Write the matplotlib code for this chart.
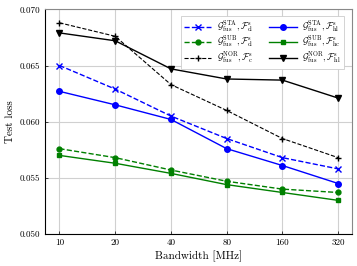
import numpy as np
import matplotlib
matplotlib.use('Agg')
from matplotlib import pyplot as plt
from matplotlib.ticker import FixedLocator, FixedFormatter, NullFormatter

plt.rcParams['font.family'] = 'serif'
plt.rcParams['font.serif'] = ['cmr10', 'DejaVu Serif']
plt.rcParams['mathtext.fontset'] = 'cm'
plt.rcParams['axes.formatter.use_mathtext'] = True

bandwidth = [10, 20, 40, 80, 160, 320]
xticklabels = ['10', '20', '40', '80', '160', '320']

sta_cl = [0.0650, 0.0629, 0.0605, 0.0585, 0.0568, 0.0558]
sub_cl = [0.0576, 0.0568, 0.0557, 0.0547, 0.0540, 0.0537]
nor_c = [0.0688, 0.0676, 0.0633, 0.0610, 0.0585, 0.0568]
sta_hl = [0.0627, 0.0615, 0.0602, 0.0576, 0.0561, 0.0545]
sub_hc = [0.0570, 0.0563, 0.0554, 0.0544, 0.0537, 0.0530]
nor_hl = [0.0679, 0.0672, 0.0647, 0.0638, 0.0637, 0.0621]

labels = [
    r'$\mathcal{G}^{\rm STA}_{\rm fus}, \mathcal{F}^{\rm s}_{\rm cl}$',
    r'$\mathcal{G}^{\rm SUB}_{\rm fus}, \mathcal{F}^{\rm s}_{\rm cl}$',
    r'$\mathcal{G}^{\rm NOR}_{\rm fus}, \mathcal{F}^{\rm s}_{\rm c}$',
    r'$\mathcal{G}^{\rm STA}_{\rm fus}, \mathcal{F}^{\rm s}_{\rm hl}$',
    r'$\mathcal{G}^{\rm SUB}_{\rm fus}, \mathcal{F}^{\rm s}_{\rm hc}$',
    r'$\mathcal{G}^{\rm NOR}_{\rm fus}, \mathcal{F}^{\rm s}_{\rm hl}$',
]

fig = plt.figure(figsize=(3.57, 2.66), dpi=100)
ax = fig.add_axes([0.126, 0.12, 0.86, 0.845])

ax.plot(bandwidth, sta_cl, '--', color='blue', marker='x', ms=4, lw=1, label=labels[0])
ax.plot(bandwidth, sub_cl, '--', color='green', marker='o', ms=3.5, lw=1, label=labels[1])
ax.plot(bandwidth, nor_c, '--', color='black', marker='+', ms=4, lw=0.8, label=labels[2])
ax.plot(bandwidth, sta_hl, '-', color='blue', marker='o', ms=4, lw=1, label=labels[3])
ax.plot(bandwidth, sub_hc, '-', color='green', marker='s', ms=3.5, lw=1, label=labels[4])
ax.plot(bandwidth, nor_hl, '-', color='black', marker='v', ms=4, lw=1, label=labels[5])

ax.set_xscale('log', base=2)
ax.set_xlim(8.35, 380)
ax.xaxis.set_major_locator(FixedLocator(bandwidth))
ax.xaxis.set_major_formatter(FixedFormatter(xticklabels))
ax.xaxis.set_minor_formatter(NullFormatter())
ax.set_ylim(0.050, 0.070)
ax.set_yticks([0.050, 0.055, 0.060, 0.065, 0.070])
ax.set_yticklabels(['0.050', '0.055', '0.060', '0.065', '0.070'])

ax.grid(True, which='major', color='#d0d0d0', lw=0.8)
ax.tick_params(which='both', direction='in', labelsize=6.5, length=2, width=0.5)
ax.tick_params(which='minor', length=1.5)
for s in ['top', 'right']:
    ax.spines[s].set_color('#888888')
for s in ['left', 'bottom']:
    ax.spines[s].set_color('black')
for s in ax.spines.values():
    s.set_linewidth(0.8)

ax.set_xlabel('Bandwidth [MHz]', fontsize=8, labelpad=2)
ax.set_ylabel('Test loss', fontsize=8, labelpad=3)

leg = ax.legend(ncol=2, loc='upper right', fontsize=6.5, frameon=True, fancybox=False,
                edgecolor='#cccccc', framealpha=1, handlelength=3.0, handletextpad=0.6,
                columnspacing=1.8, labelspacing=0.0, borderpad=0.35,
                bbox_to_anchor=(0.988, 0.99))
leg.get_frame().set_linewidth(0.6)

fig.savefig('out.png', dpi=100)
